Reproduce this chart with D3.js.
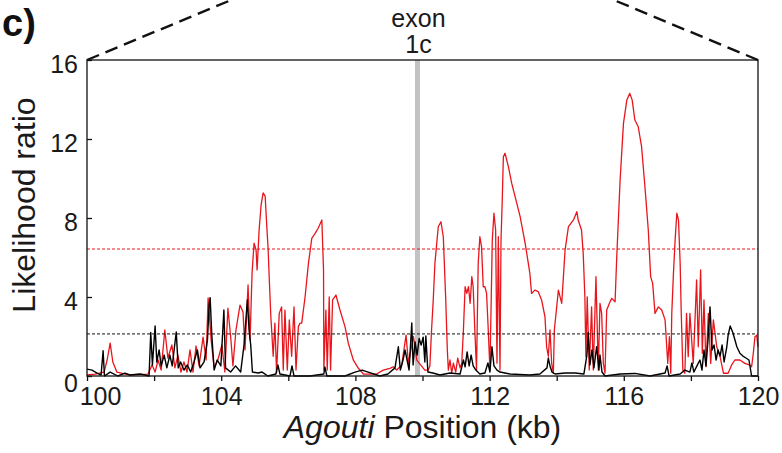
<!DOCTYPE html>
<html>
<head>
<meta charset="utf-8">
<script src="https://cdn.jsdelivr.net/npm/d3@7"></script>
<style>
  body { margin: 0; background: #fff; }
  svg { display: block; font-family: "Liberation Sans", Arial, Helvetica, sans-serif; }
</style>
</head>
<body>
<div id="dataviz"></div>
<script>
// likelihood ratio along the Agouti locus, [position kb, LR]
var redLR = [
  [100.00,0.05],[100.24,0.10],[100.51,0.20],[100.60,0.81],[100.69,1.67],[100.77,0.71],[100.89,0.20],
  [101.28,0.05],[101.82,0.10],[101.94,0.56],[102.03,0.20],[102.12,0.81],[102.21,0.30],[102.32,2.33],
  [102.41,0.91],[102.53,1.57],[102.62,0.41],[102.71,1.06],[102.80,0.20],[102.89,0.71],[102.98,0.20],
  [103.07,1.32],[103.16,0.20],[103.25,1.52],[103.34,0.51],[103.46,1.97],[103.55,0.81],[103.61,3.95],
  [103.70,1.82],[103.79,0.41],[103.90,0.81],[104.02,1.57],[104.11,0.20],[104.20,3.44],[104.29,1.82],
  [104.35,0.51],[104.44,2.33],[104.56,3.59],[104.65,3.24],[104.71,1.32],[104.80,4.61],[104.86,1.82],
  [104.92,5.22],[104.98,6.73],[105.04,6.38],[105.07,5.37],[105.13,7.39],[105.19,8.66],[105.25,9.27],
  [105.31,9.11],[105.34,8.15],[105.36,7.56],[105.40,6.38],[105.43,5.03],[105.48,3.00],[105.55,1.00],
  [105.60,2.68],[105.65,0.15],[105.73,3.17],[105.80,3.50],[105.85,0.30],[105.90,3.34],[105.97,0.30],
  [106.03,2.84],[106.10,1.00],[106.17,3.50],[106.23,0.30],[106.30,2.50],[106.35,2.68],[106.40,2.68],
  [106.50,4.00],[106.60,5.70],[106.70,6.97],[106.80,7.22],[106.89,7.48],[107.00,7.90],[107.05,5.37],
  [107.06,0.30],[107.12,3.34],[107.16,0.30],[107.22,4.00],[107.26,0.30],[107.32,3.85],[107.42,4.10],
  [107.54,3.34],[107.69,2.50],[107.79,1.65],[107.94,0.80],[108.09,0.39],[108.24,0.10],[108.63,0.10],
  [108.83,0.30],[109.03,0.39],[109.13,0.47],[109.23,0.30],[109.38,0.55],[109.51,2.07],[109.58,0.65],
  [109.73,2.00],[109.83,0.80],[110.07,0.30],[110.17,0.30],[110.22,0.51],[110.27,2.33],[110.32,3.85],
  [110.37,5.70],[110.47,7.56],[110.55,7.81],[110.62,7.05],[110.69,4.00],[110.74,1.32],[110.77,0.30],
  [110.82,0.81],[110.87,0.15],[110.92,0.65],[110.99,0.20],[111.05,0.91],[111.12,0.41],[111.17,0.65],
  [111.22,2.33],[111.27,4.52],[111.32,4.18],[111.37,4.52],[111.42,3.68],[111.47,5.03],[111.51,4.52],
  [111.56,2.33],[111.61,0.30],[111.66,5.70],[111.71,7.05],[111.76,6.54],[111.81,4.52],[111.86,4.52],
  [111.91,4.18],[111.96,2.33],[112.01,0.30],[112.08,6.89],[112.13,8.24],[112.18,7.39],[112.22,0.65],
  [112.26,7.05],[112.31,0.30],[112.34,6.89],[112.38,9.08],[112.41,11.10],[112.46,11.28],[112.56,10.60],
  [112.66,9.75],[112.76,9.08],[112.91,8.07],[113.06,6.72],[113.20,5.20],[113.25,4.18],[113.35,4.35],
  [113.45,4.27],[113.55,3.85],[113.65,3.00],[113.70,1.48],[113.75,1.00],[113.80,2.33],[113.85,0.64],
  [113.90,0.14],[113.93,2.33],[113.97,3.00],[114.05,4.35],[114.15,3.68],[114.20,5.03],[114.25,6.38],
  [114.35,7.56],[114.50,7.90],[114.60,8.32],[114.64,7.90],[114.74,7.39],[114.79,6.21],[114.84,4.01],
  [114.87,0.98],[114.91,4.01],[114.97,0.30],[115.04,3.50],[115.09,0.30],[115.17,5.03],[115.24,0.30],
  [115.29,3.68],[115.34,3.17],[115.39,0.64],[115.44,0.14],[115.49,3.34],[115.59,3.76],[115.64,3.93],
  [115.74,3.76],[115.79,6.04],[115.89,9.92],[115.99,12.79],[116.09,13.97],[116.18,14.31],[116.25,13.97],
  [116.33,12.96],[116.43,12.62],[116.53,11.61],[116.63,9.58],[116.73,7.39],[116.80,5.03],[116.86,4.69],
  [116.93,3.17],[117.03,3.50],[117.13,3.34],[117.23,2.84],[117.28,1.48],[117.31,0.64],[117.36,1.99],
  [117.40,0.14],[117.43,3.17],[117.48,5.20],[117.53,6.89],[117.58,8.24],[117.63,7.90],[117.68,5.70],
  [117.71,3.34],[117.76,0.30],[117.82,0.14],[117.87,3.17],[117.92,0.98],[117.97,3.17],[118.07,0.64],
  [118.17,4.86],[118.22,1.48],[118.29,5.37],[118.34,1.15],[118.39,3.85],[118.45,0.47],[118.52,3.17],
  [118.59,0.64],[118.67,2.84],[118.77,1.48],[118.87,0.98],[118.97,0.14],[119.11,0.14],[119.21,0.55],
  [119.31,0.81],[119.46,0.81],[119.61,0.64],[119.76,0.55],[119.81,0.47],[119.86,1.15],[119.91,1.99],
  [119.96,2.07],[120.00,1.48]
];

var blackLR = [
  [100.00,0.35],[100.15,0.30],[100.30,0.15],[100.42,0.05],[100.48,1.28],[100.52,0.00],[100.69,0.20],
  [100.92,0.00],[101.13,0.15],[101.28,0.05],[101.58,0.10],[101.85,0.00],[101.90,2.20],[101.95,0.56],
  [102.03,2.53],[102.08,0.71],[102.15,1.32],[102.21,0.51],[102.30,1.06],[102.38,0.41],[102.47,1.06],
  [102.54,0.51],[102.66,2.23],[102.72,0.41],[102.79,0.71],[102.89,0.30],[102.99,0.56],[103.09,0.20],
  [103.19,0.71],[103.29,1.32],[103.37,0.41],[103.49,0.71],[103.59,1.82],[103.64,3.59],[103.67,3.97],
  [103.72,2.07],[103.79,0.30],[103.88,0.81],[103.99,0.51],[104.08,3.34],[104.13,0.41],[104.28,0.20],
  [104.43,0.51],[104.58,0.20],[104.68,1.57],[104.78,3.85],[104.83,2.33],[104.88,1.57],[104.93,0.20],
  [105.10,0.15],[105.22,0.20],[105.39,0.00],[105.63,0.10],[105.69,0.56],[105.75,0.10],[106.05,0.00],
  [106.11,0.51],[106.17,0.00],[106.65,0.00],[107.06,0.10],[107.09,0.46],[107.15,0.00],[107.69,0.00],
  [107.99,0.20],[108.20,0.30],[108.38,0.20],[108.73,0.00],[108.97,0.10],[109.18,0.41],[109.28,1.48],
  [109.34,0.30],[109.42,0.81],[109.48,1.32],[109.54,0.81],[109.60,0.30],[109.68,2.68],[109.72,0.56],
  [109.78,1.72],[109.84,1.06],[109.90,1.90],[109.96,1.57],[110.02,1.97],[110.07,0.71],[110.10,2.03],
  [110.16,0.20],[110.31,0.15],[110.52,0.05],[110.82,0.15],[111.12,0.10],[111.22,0.81],[111.27,0.46],
  [111.33,1.22],[111.39,0.51],[111.45,1.06],[111.51,0.51],[111.59,0.30],[111.71,0.10],[111.86,0.15],
  [111.95,0.66],[112.01,0.20],[112.07,1.48],[112.13,0.51],[112.22,0.30],[112.31,0.20],[112.61,0.10],
  [113.20,0.05],[113.50,0.10],[113.71,0.41],[113.75,0.91],[113.80,0.51],[113.86,0.20],[113.95,0.10],
  [114.25,0.15],[114.55,0.15],[114.81,0.10],[114.90,1.06],[114.94,2.20],[114.99,0.56],[115.05,1.32],
  [115.11,0.41],[115.19,1.48],[115.26,0.30],[115.29,1.06],[115.35,0.20],[115.44,0.00],[115.89,0.10],
  [116.33,0.13],[116.78,0.00],[117.23,0.15],[117.29,0.51],[117.35,0.00],[117.68,0.10],[117.82,0.30],
  [117.97,0.20],[118.03,0.66],[118.09,0.20],[118.18,0.51],[118.27,0.81],[118.33,0.30],[118.39,1.32],
  [118.45,0.51],[118.51,1.82],[118.57,3.50],[118.63,1.32],[118.69,1.57],[118.75,0.81],[118.81,1.32],
  [118.87,1.01],[118.93,1.57],[118.99,0.71],[119.07,1.48],[119.11,2.07],[119.17,2.53],[119.25,2.20],
  [119.37,1.48],[119.46,1.15],[119.55,1.01],[119.64,0.91],[119.73,0.81],[119.81,0.00],[120.00,0.00]
];

var yTicks = [0, 4, 8, 12, 16];
var xTicks = [100, 102, 104, 106, 108, 110, 112, 114, 116, 118, 120];
var xLabels = [100, 104, 108, 112, 116, 120];
var redThreshold = 6.43;
var blackThreshold = 2.13;
var exonPos = 109.85;
var exonText = ["exon", "1c"];

var widthFull = 782, heightFull = 453;
var margin = { top: 60, right: 24, bottom: 77, left: 87 };
var width = widthFull - margin.left - margin.right;
var height = heightFull - margin.top - margin.bottom;

var root = d3.select("#dataviz").append("svg")
    .attr("width", widthFull)
    .attr("height", heightFull);

var svg = root.append("g")
    .attr("transform", "translate(" + margin.left + "," + margin.top + ")");

var x = d3.scaleLinear().domain([100, 120]).range([0, width]);
var y = d3.scaleLinear().domain([0, 16]).range([height, 0]);

// panel letter
root.append("text")
    .attr("x", 2)
    .attr("y", 36)
    .style("font-size", "38px")
    .style("font-weight", "bold")
    .attr("fill", "#111")
    .text("c)");

// zoom-in dashed guides from the top corners
var slope = 0.416;
svg.append("line")
    .attr("x1", x(100)).attr("y1", y(16))
    .attr("x2", x(100) + (margin.top + 2) / slope).attr("y2", -margin.top - 2)
    .attr("stroke", "#111").attr("stroke-width", 2.4)
    .style("stroke-dasharray", "13,7");
svg.append("line")
    .attr("x1", x(120)).attr("y1", y(16))
    .attr("x2", x(120) - (margin.top + 2) / slope).attr("y2", -margin.top - 2)
    .attr("stroke", "#111").attr("stroke-width", 2.4)
    .style("stroke-dasharray", "13,7");

// exon marker
svg.append("line")
    .attr("x1", x(exonPos)).attr("x2", x(exonPos))
    .attr("y1", y(0)).attr("y2", y(16))
    .attr("stroke", "#c2c2c2").attr("stroke-width", 5);

svg.selectAll(".exon").data(exonText).enter().append("text")
    .attr("class", "exon")
    .attr("x", x(exonPos) + 1)
    .attr("y", (d, i) => -33 + i * 26)
    .attr("text-anchor", "middle")
    .style("font-size", "25px")
    .attr("fill", "#1a1a1a")
    .text(d => d);

// LR traces
var line = d3.line().x(d => x(d[0])).y(d => y(d[1]));

svg.append("path")
    .datum(redLR)
    .attr("fill", "none")
    .attr("stroke", "#e8161c")
    .attr("stroke-width", 1.3)
    .attr("stroke-linejoin", "round")
    .attr("d", line);

svg.append("path")
    .datum(blackLR)
    .attr("fill", "none")
    .attr("stroke", "#000")
    .attr("stroke-width", 1.4)
    .attr("stroke-linejoin", "round")
    .attr("d", line);

// significance thresholds
svg.append("line")
    .attr("x1", 0).attr("x2", width)
    .attr("y1", y(redThreshold)).attr("y2", y(redThreshold))
    .attr("stroke", "#e8161c").attr("stroke-width", 1)
    .style("stroke-dasharray", "3,2");
svg.append("line")
    .attr("x1", 0).attr("x2", width)
    .attr("y1", y(blackThreshold)).attr("y2", y(blackThreshold))
    .attr("stroke", "#111").attr("stroke-width", 1)
    .style("stroke-dasharray", "3,2");

// frame
svg.append("rect")
    .attr("x", 0).attr("y", 0)
    .attr("width", width).attr("height", height)
    .attr("fill", "none")
    .attr("stroke", "#111").attr("stroke-width", 1.3);

// x axis
var xAxis = svg.append("g")
    .attr("transform", "translate(0," + height + ")")
    .call(d3.axisBottom(x).tickValues(xTicks).tickSize(5)
        .tickFormat(d => xLabels.includes(d) ? d : ""));
xAxis.select(".domain").remove();
xAxis.selectAll("line").attr("stroke", "#111").attr("stroke-width", 1.3);
xAxis.selectAll("text")
    .attr("y", 11)
    .attr("dx", d => d == 100 ? 13 : 0)
    .style("font-size", "25px")
    .style("font-family", "'Liberation Sans', Arial, sans-serif")
    .attr("fill", "#1a1a1a");

// y axis
var yAxis = svg.append("g")
    .call(d3.axisLeft(y).tickValues(yTicks).tickSize(-5).tickPadding(9));
yAxis.select(".domain").remove();
yAxis.selectAll("line").attr("stroke", "#111").attr("stroke-width", 1.3);
yAxis.selectAll("text")
    .attr("dy", d => d == 0 ? "0.6em" : "0.48em")
    .style("font-size", "25px")
    .style("font-family", "'Liberation Sans', Arial, sans-serif")
    .attr("fill", "#1a1a1a");

// axis titles
root.append("text")
    .attr("transform", "translate(35," + (margin.top + 145) + ") rotate(-90)")
    .attr("text-anchor", "middle")
    .style("font-size", "32px")
    .attr("fill", "#1a1a1a")
    .text("Likelihood ratio");

var xt = root.append("text")
    .attr("x", margin.left + width / 2)
    .attr("y", 438)
    .attr("text-anchor", "middle")
    .style("font-size", "32px")
    .attr("fill", "#1a1a1a");
xt.append("tspan").style("font-style", "italic").text("Agouti");
xt.append("tspan").text(" Position (kb)");
</script>
</body>
</html>
